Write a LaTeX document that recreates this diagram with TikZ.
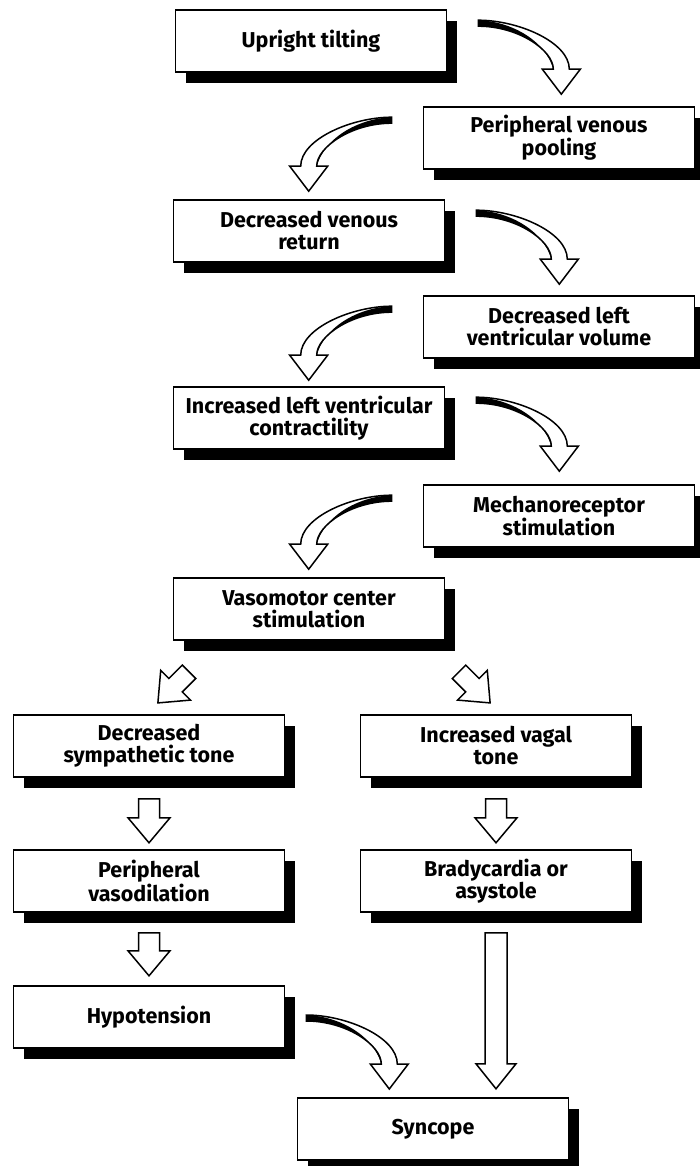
\documentclass[tikz,border=0pt]{standalone}
\usepackage{fontspec}
\setmainfont{Fira Sans}
\usetikzlibrary{calc,shadows}
\tikzset{
  box/.style={draw, line width=1.6pt, fill=white, minimum width=271pt, minimum height=62pt,
    inner sep=0pt, align=center, font=\bfseries\fontsize{21.5}{22}\selectfont,
    drop shadow={shadow xshift=10pt, shadow yshift=-11pt, fill=black, opacity=1}},
  fatline/.style={draw, line width=1.5pt, fill=white, line join=miter},
}
\newcommand\fatarr[5]{% tail, angle, length, shaft half width, head half width
  \draw[fatline, shift={(#1)}, rotate=#2] (0,-#4) -- (#3-25,-#4) -- (#3-25,-#5) -- (#3,0)
    -- (#3-25,#5) -- (#3-25,#4) -- (0,#4) -- cycle;}
\newcommand\curvarr[2]{% start, xscale
  \begin{scope}[shift={(#1)}, xscale=#2]
    \filldraw[fatline] (0,-2) .. controls (40,-2) and (91,20) .. (91,47) -- (102,47) -- (83,72)
      -- (64,47) -- (75,47) .. controls (75,28) and (40,4) .. (0,4) -- cycle;
    \fill (0,-2) .. controls (30,-1) and (66,16) .. (75,47) .. controls (75,28) and (40,4) .. (0,4) -- cycle;
  \end{scope}}
\begin{document}
\begin{tikzpicture}[x=1pt,y=-1pt]
\useasboundingbox (0,0) rectangle (699,1166);
\fill[white] (0,0) rectangle (699,1166);

\node[box] (up) at (311,41) {Upright tilting};
\node[box] (pvp) at (559,138) {Peripheral venous\\pooling};
\node[box] (dvr) at (309,231) {Decreased venous\\return};
\node[box] (dlv) at (559,327) {Decreased left\\ventricular volume};
\node[box] (ilc) at (309,418) {Increased left ventricular\\contractility};
\node[box] (mech) at (559,516) {Mechanoreceptor\\stimulation};
\node[box] (vaso) at (309,609) {Vasomotor center\\stimulation};
\node[box] (dst) at (149,746) {Decreased\\sympathetic tone};
\node[box] (ivt) at (496,746) {Increased vagal\\tone};
\node[box] (pv) at (149,881) {Peripheral\\vasodilation};
\node[box] (bra) at (496,881) {Bradycardia or\\asystole};
\node[box] (hyp) at (149,1017) {Hypotension};
\node[box] (syn) at (433,1129) {Syncope};

% curved connectors
\coordinate (c1) at ($(up.north east)+(31,13)$);
\coordinate (c2) at ($(pvp.north west)+(-31,13)$);
\coordinate (c3) at ($(dvr.north east)+(31,13)$);
\coordinate (c4) at ($(dlv.north west)+(-31,13)$);
\coordinate (c5) at ($(ilc.north east)+(31,13)$);
\coordinate (c6) at ($(mech.north west)+(-31,13)$);
\coordinate (c7) at ($(hyp.east)+(21,0)$);
\curvarr{c1}{1}
\curvarr{c2}{-1}
\curvarr{c3}{1}
\curvarr{c4}{-1}
\curvarr{c5}{1}
\curvarr{c6}{-1}
\curvarr{c7}{1}

% straight connectors
\coordinate (d1) at ($(vaso.south)+(-120,31)$);
\coordinate (d2) at ($(vaso.south)+(150,31)$);
\coordinate (s1) at ($(dst.south)+(0,21)$);
\coordinate (s2) at ($(ivt.south)+(0,21)$);
\coordinate (s3) at ($(pv.south)+(0,20)$);
\coordinate (s4) at ($(bra.south)+(0,20)$);
\fatarr{d1}{-135}{44}{9.5}{21}
\fatarr{d2}{-45}{44}{9.5}{21}
\fatarr{s1}{-90}{44}{10.5}{21}
\fatarr{s2}{-90}{44}{10.5}{21}
\fatarr{s3}{-90}{43}{10.5}{21}
\fatarr{s4}{-90}{156}{11}{20}
\end{tikzpicture}
\end{document}
